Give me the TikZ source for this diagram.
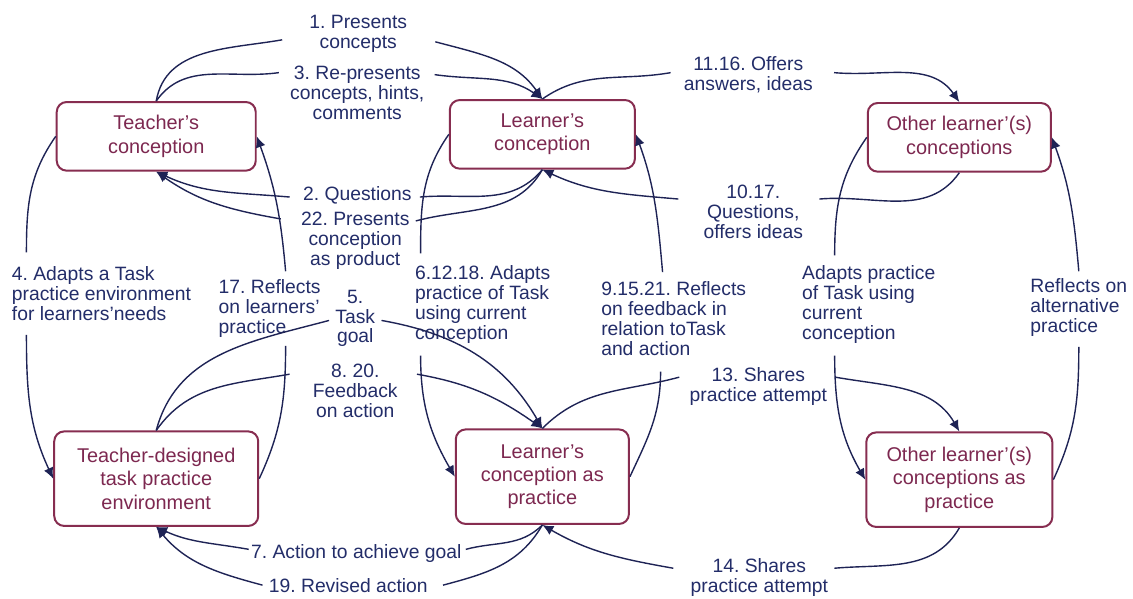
\documentclass[tikz,border=0pt]{standalone}
\usepackage{fontspec}
\setmainfont{Liberation Sans}
\usepackage{tikz}
\usetikzlibrary{positioning}
\usetikzlibrary{arrows.meta}

\definecolor{boxred}{RGB}{135,45,80}
\definecolor{boxtext}{RGB}{125,40,80}
\definecolor{labnavy}{RGB}{35,45,105}
\definecolor{linknavy}{RGB}{30,35,85}
\frenchspacing

\begin{document}
\begin{tikzpicture}[x=0.5pt,y=0.5pt,
	box/.style={draw=boxred, line width=1pt, rounded corners=5pt, fill=white, text=boxtext, align=center, font=\fontsize{10}{11.7}\selectfont, inner sep=2pt},
	lab/.style={text=labnavy, align=center, font=\fontsize{9.7}{10}\selectfont, inner xsep=3pt, inner ysep=1pt},
	link/.style={draw=linknavy, line width=0.7pt, -{Latex[length=5.5pt,width=5pt]}}]
		\fill[white] (0,0) rectangle (1133,-595);
		% conceptions
		\node[box, minimum width=100pt, minimum height=34.5pt] (tc) at (157,-137) {Teacher's\\conception};
		\node[box, minimum width=93pt, minimum height=34.5pt] (lc) at (545,-135) {Learner's\\conception};
		\node[box, minimum width=92pt, minimum height=34.5pt] (oc) at (964,-138) {Other learner'(s)\\conceptions};
		% practices
		\node[box, minimum width=102.5pt, minimum height=47.5pt, below=130pt of tc] (tdp) {Teacher-designed\\task practice\\environment};
		\node[box, minimum width=87pt, minimum height=47.5pt, below=130pt of lc] (lcp) {Learner's\\conception as\\practice};
		\node[box, minimum width=93.5pt, minimum height=47.5pt, below=130pt of oc] (ocp) {Other learner'(s)\\conceptions as\\practice};

		\node[lab] (l1) at (360,-34) {1. Presents\\concepts};
		\node[lab] (l3) at (359,-93) {3. Re-presents\\concepts, hints,\\comments};
		\node[lab] (l1116) at (752,-75) {11.16. Offers\\answers, ideas};
		\node[lab] (l2) at (359,-196) {2. Questions};
		\node[lab] (l22) at (357,-242) {22. Presents\\conception\\as product};
		\node[lab] (l1017) at (757,-213) {10.17.\\Questions,\\offers ideas};
		\node[lab, align=left] (l4) at (102,-295) {4. Adapts a Task\\practice environment\\for learners'needs};
		\node[lab, align=left] (l17) at (271,-310) {17. Reflects\\on learners'\\practice};
		\node[lab] (l5) at (357,-320) {5.\\Task\\goal};
		\node[lab] (l820) at (357,-393) {8. 20.\\Feedback\\on action};
		\node[lab, align=left] (l61218) at (485,-306) {6.12.18. Adapts\\practice of Task\\using current\\conception};
		\node[lab, align=left] (l91521) at (677,-320) {9.15.21. Reflects\\on feedback in\\relation toTask\\and action};
		\node[lab, align=left] (ladapt) at (873,-306) {Adapts practice\\of Task using\\current\\conception};
		\node[lab, align=left] (lrefl) at (1084,-309) {Reflects on\\alternative\\practice};
		\node[lab] (l13) at (762,-388) {13. Shares\\practice attempt};
		\node[lab] (l7) at (358,-556) {7. Action to achieve goal};
		\node[lab] (l19) at (350,-588) {19. Revised action};
		\node[lab] (l14) at (763,-580) {14. Shares\\practice attempt};

		% top row
		\draw[link] (tc.north) to[out=80,in=190] ([xshift=-10.5pt,yshift=-3pt]l1.west) ([xshift=11pt,yshift=-4pt]l1.east) to[out=-15,in=125] (lc.north);
		\draw[link] (tc.north) to[out=55,in=188] ([xshift=-2.5pt,yshift=10pt]l3.west) ([xshift=2pt,yshift=9pt]l3.east) to[out=-8,in=145] (lc.north);
		\draw[link] (lc.north) to[out=35,in=190] ([xshift=-3.5pt,yshift=1pt]l1116.west) ([xshift=7.5pt,yshift=1pt]l1116.east) to[out=-5,in=125] (oc.north);
		\draw[link] (lc.south) to[out=230,in=5] ([xshift=1pt,yshift=-1pt]l2.east) ([xshift=-3.5pt,yshift=-1pt]l2.west) to[out=175,in=-25] (tc.south);
		\draw[link] (lc.south) to[out=240,in=15] ([yshift=10pt]l22.east) ([xshift=-7pt,yshift=11pt]l22.west) to[out=170,in=-35] (tc.south);
		\draw[link] (oc.south) to[out=235,in=5] ([xshift=5pt,yshift=6.5pt]l1017.east) ([xshift=-9.5pt,yshift=6.5pt]l1017.west) to[out=175,in=-25] (lc.south);
		% down and up
		\draw[link] (tc.west) to[out=235,in=90] ([xshift=10.5pt,yshift=6pt]l4.north west) ([xshift=10.5pt,yshift=-6pt]l4.south west) to[out=-90,in=115] (tdp.west);
		\draw[link] (tdp.east) to[out=65,in=-90] ([xshift=8pt,yshift=-3pt]l17.south) ([xshift=8pt,yshift=3pt]l17.north) to[out=95,in=-70] (tc.east);
		\draw[link] (lc.west) to[out=235,in=90] ([xshift=6pt,yshift=5pt]l61218.north west) ([xshift=6pt,yshift=-5pt]l61218.south west) to[out=-90,in=120] (lcp.west);
		\draw[link] (lcp.east) to[out=65,in=-90] ([xshift=33pt,yshift=-7pt]l91521.south west) ([xshift=34pt,yshift=3.5pt]l91521.north west) to[out=95,in=-70] (lc.east);
		\draw[link] (oc.west) to[out=235,in=90] ([xshift=19.5pt,yshift=4pt]ladapt.north west) ([xshift=19.5pt,yshift=-5pt]ladapt.south west) to[out=-90,in=120] (ocp.west);
		\draw[link] (ocp.east) to[out=65,in=-90] ([xshift=27.5pt,yshift=-4pt]lrefl.south west) ([xshift=27.5pt,yshift=2.5pt]lrefl.north west) to[out=95,in=-70] (oc.east);
		% middle
		\draw[link] (tdp.north) to[out=75,in=195] ([yshift=-1pt]l5.west) ([yshift=-1pt]l5.east) to[out=-10,in=120] (lcp.north);
		\draw[link] (tdp.north) to[out=55,in=190] ([xshift=-8.5pt,yshift=8.5pt]l820.west) ([xshift=6.5pt,yshift=8.5pt]l820.east) to[out=-10,in=145] (lcp.north);
		\draw[link] (lcp.north) to[out=45,in=195] ([xshift=-2pt,yshift=4.5pt]l13.west) ([xshift=1pt,yshift=4.5pt]l13.east) to[out=-10,in=120] (ocp.north);
		% bottom row
		\draw[link] (lcp.south) to[out=225,in=15] ([xshift=-1pt,yshift=2pt]l7.east) ([xshift=2pt,yshift=2pt]l7.west) to[out=170,in=-25] (tdp.south);
		\draw[link] (lcp.south) to[out=240,in=15] ([xshift=4.5pt]l19.east) (l19.west) to[out=165,in=-50] (tdp.south);
		\draw[link] (ocp.south) to[out=240,in=5] ([yshift=4.5pt]l14.east) ([xshift=-5.5pt,yshift=4.5pt]l14.west) to[out=170,in=-30] (lcp.south);
	\end{tikzpicture}
\end{document}
